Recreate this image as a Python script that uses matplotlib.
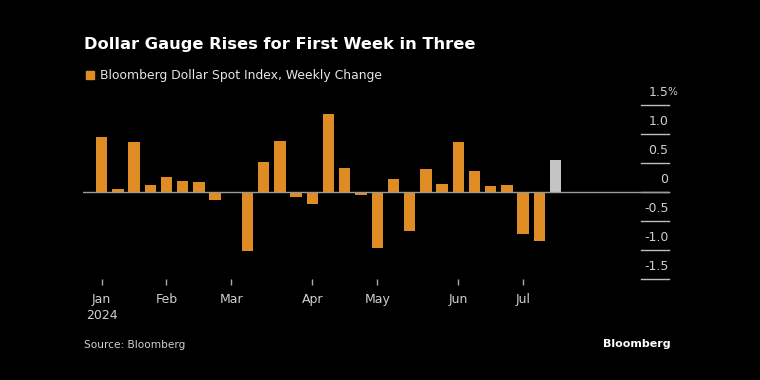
import matplotlib
matplotlib.use("Agg")
import matplotlib.pyplot as plt
import matplotlib.transforms as mtransforms
import numpy as np
import pandas as pd

# ---------------------------------------------------------------------------
# Data: Bloomberg Dollar Spot Index, weekly % change
# ---------------------------------------------------------------------------
weeks = pd.date_range("2024-01-05", periods=29, freq="W-FRI")
changes = [
    0.94, 0.06, 0.87, 0.12, 0.26, 0.19, 0.17, -0.13, -0.02, -1.02,
    0.52, 0.88, -0.09, -0.21, 1.35, 0.41, -0.06, -0.97, 0.22, -0.68,
    0.39, 0.14, 0.87, 0.37, 0.10, 0.12, -0.72, -0.85, 0.56,
]
y_ticks = [1.5, 1.0, 0.5, 0, -0.5, -1.0, -1.5]
y_labels = ["1.5", "1.0", "0.5", "0", "-0.5", "-1.0", "-1.5"]

BG = "#000000"
ORANGE = "#df8c25"
CURRENT = "#c4c4c4"
TEXT = "#e6e6e6"
SUBTEXT = "#cfcfcf"
LINE = "#bdbdbd"

plt.rcParams["font.family"] = ["DejaVu Sans"]

fig = plt.figure(figsize=(7.6, 3.8), dpi=100, facecolor=BG)
ax = fig.add_axes([83 / 760, 1 - 279 / 380, 586 / 760, 174 / 380])
ax.set_facecolor(BG)

x = np.arange(len(changes))
colors = [ORANGE] * (len(changes) - 1) + [CURRENT]
ax.bar(x, changes, width=0.7, color=colors, zorder=3)
ax.axhline(0, color="#9a9a9a", linewidth=1.0, zorder=4)

ax.set_xlim(-1.15, 35.0)
ax.set_ylim(-1.5, 1.5)
for s in ax.spines.values():
    s.set_visible(False)
ax.set_yticks([])

# short grid segments with labels above them on the right
trans = mtransforms.blended_transform_factory(ax.transAxes, ax.transData)
for val, lab in zip(y_ticks, y_labels):
    ax.plot([0.953, 1.0], [val, val], color=LINE, linewidth=1.0,
            transform=trans, clip_on=False, zorder=2)
    ax.text(0.999, val + 0.22, lab, transform=trans, ha="right", va="center",
            color=SUBTEXT, fontsize=9)
ax.text(0.998, y_ticks[0] + 0.22, "%", transform=trans, ha="left", va="center",
        color=SUBTEXT, fontsize=7.5)

# month ticks at the first week of each month
tick_pos, tick_lab = [], []
prev = None
for i, d in enumerate(weeks):
    if d.month != prev:
        tick_pos.append(i)
        tick_lab.append(d.strftime("%b") + ("\n2024" if not tick_lab else ""))
        prev = d.month
ax.set_xticks(tick_pos)
ax.set_xticklabels(tick_lab, color=SUBTEXT, fontsize=9, linespacing=1.3)
ax.tick_params(axis="x", length=4, width=1, color="#aaaaaa", pad=6)

fig.text(84 / 760, 1 - 44 / 380, "Dollar Gauge Rises for First Week in Three",
         color="white", fontsize=11.7, fontweight="bold", va="center")
fig.patches.append(plt.Rectangle((86 / 760, 1 - 79 / 380), 8 / 760, 8 / 380,
                                 transform=fig.transFigure, color=ORANGE))
fig.text(100 / 760, 1 - 75 / 380, "Bloomberg Dollar Spot Index, Weekly Change",
         color=TEXT, fontsize=8.9, va="center")
fig.text(84 / 760, 1 - 345 / 380, "Source: Bloomberg", color=SUBTEXT,
         fontsize=7.6, va="center")
fig.text(671 / 760, 1 - 344 / 380, "Bloomberg", color="white", fontsize=8,
         fontweight="bold", ha="right", va="center")

plt.savefig("out.png", dpi=100, facecolor=BG)
